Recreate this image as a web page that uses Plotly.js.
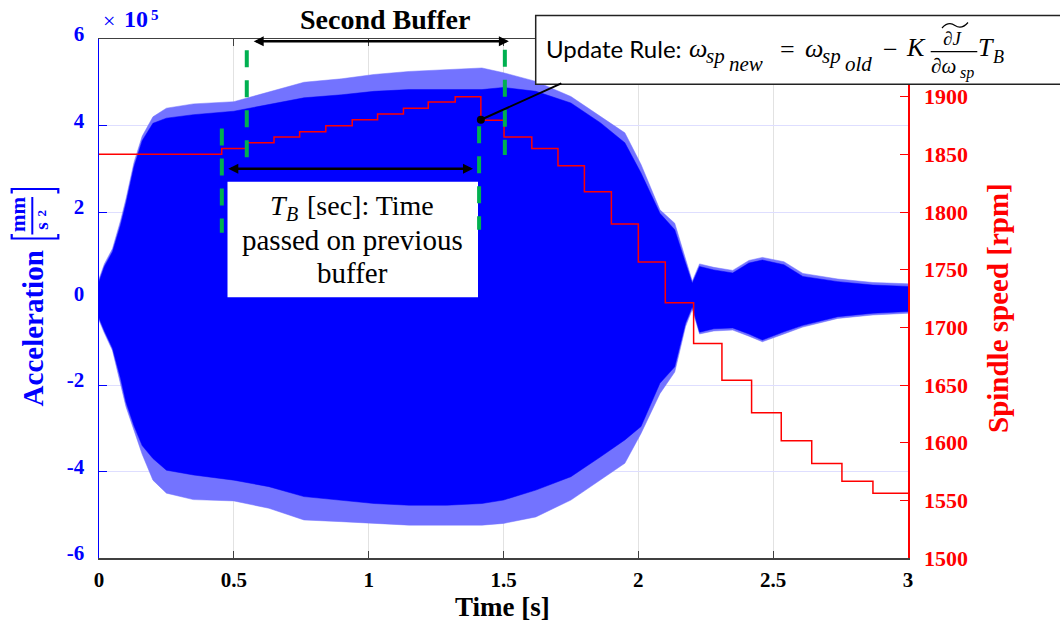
<!DOCTYPE html>
<html>
<head>
<meta charset="utf-8">
<script src="https://cdn.plot.ly/plotly-3.0.1.min.js"></script>
<style>html,body{margin:0;padding:0;background:#fff;}#chart{width:1060px;height:625px;}</style>
</head>
<body>
<div id="chart"></div>
<script>
// ---------- data ----------
// acceleration envelope, units of 1e5 mm/s^2
const tEnv    = [0, 0.02, 0.05, 0.08, 0.10, 0.13, 0.16, 0.20, 0.25, 0.35, 0.50, 0.63, 0.76, 0.90, 1.02, 1.15, 1.29, 1.42, 1.50, 1.62, 1.75, 1.86, 1.95, 2.01, 2.08, 2.135, 2.175, 2.20, 2.227, 2.28, 2.35, 2.41, 2.46, 2.54, 2.61, 2.74, 2.87, 3.0];
const upTip   = [0.45, 0.80, 1.15, 1.80, 2.30, 3.15, 3.75, 4.20, 4.40, 4.50, 4.55, 4.78, 5.00, 5.08, 5.18, 5.25, 5.29, 5.33, 5.22, 5.02, 4.67, 4.21, 3.83, 3.10, 2.05, 1.74, 0.90, 0.40, 0.80, 0.72, 0.65, 0.88, 0.95, 0.85, 0.58, 0.45, 0.37, 0.34];
const upSolid = [0.39, 0.74, 1.08, 1.70, 2.20, 3.05, 3.65, 4.05, 4.17, 4.25, 4.33, 4.48, 4.64, 4.71, 4.79, 4.83, 4.83, 4.83, 4.88, 4.79, 4.52, 4.06, 3.60, 2.90, 1.97, 1.59, 0.82, 0.35, 0.74, 0.66, 0.59, 0.82, 0.89, 0.78, 0.51, 0.39, 0.31, 0.28];
const loSolid = [-0.45, -0.75, -1.15, -1.85, -2.40, -2.95, -3.40, -3.70, -3.97, -4.08, -4.20, -4.35, -4.58, -4.66, -4.74, -4.78, -4.78, -4.74, -4.66, -4.43, -4.12, -3.66, -3.27, -2.96, -1.96, -1.58, -0.57, -0.19, -0.78, -0.70, -0.68, -0.82, -0.96, -0.77, -0.62, -0.42, -0.34, -0.30];
const loTip   = [-0.50, -0.80, -1.20, -1.95, -2.50, -3.05, -3.60, -4.20, -4.50, -4.65, -4.68, -4.85, -5.12, -5.16, -5.20, -5.24, -5.24, -5.24, -5.20, -5.05, -4.66, -4.20, -3.81, -3.12, -2.20, -1.70, -0.65, -0.25, -0.82, -0.75, -0.73, -0.87, -1.00, -0.82, -0.66, -0.46, -0.38, -0.34];
// spindle speed steps [rpm]
const stepT   = [0, 0.455, 0.546, 0.649, 0.744, 0.841, 0.939, 1.033, 1.129, 1.221, 1.321, 1.416, 1.502, 1.605, 1.702, 1.80, 1.90, 2.00, 2.10, 2.205, 2.31, 2.42, 2.53, 2.643, 2.755, 2.87, 3.0];
const speed   = [1850, 1855, 1860, 1865, 1869.5, 1874.7, 1880, 1885, 1890, 1895.3, 1900, 1879.5, 1865, 1855, 1840, 1817.5, 1789.7, 1756.7, 1721.4, 1686, 1654.2, 1625.9, 1601.6, 1582, 1566.6, 1556.2, 1556.2];
// ticks
const xTickVals  = [0, 0.5, 1, 1.5, 2, 2.5, 3];
const xTickText  = ['0', '0.5', '1', '1.5', '2', '2.5', '3'];
const yTickVals  = [-6, -4, -2, 0, 2, 4, 6];
const yTickText  = ['-6', '-4', '-2', '0', '2', '4', '6'];
const y2TickVals = [1500, 1550, 1600, 1650, 1700, 1750, 1800, 1850, 1900];
const y2TickText = ['1500', '1550', '1600', '1650', '1700', '1750', '1800', '1850', '1900'];

// ---------- layout helpers ----------
const SERIF = 'Liberation Serif';
const SANS = 'Lato';
const L = 99, W = 809, T = 39, H = 519;
const BLUE = '#0000ff', RED = '#ff0000', GREEN = '#00b050', FRINGE = 'rgb(115,115,255)';
const px2x = p => (p - L) / W;
const px2y = p => (T + H - p) / H;
const P = (x, y) => px2x(x) + ',' + px2y(y);

function txt(text, x, baseline, size, o) {
  o = o || {};
  const k = o.k !== undefined ? o.k : 0.34;
  return {
    xref: 'paper', yref: 'paper', x: px2x(x), y: px2y(baseline - k * size),
    text: text, showarrow: false, xanchor: o.anchor || 'left', yanchor: 'middle',
    borderpad: 0, borderwidth: 0,
    font: {family: o.family || SERIF, size: size, color: o.color || 'black',
           weight: o.weight || 'normal', style: o.style || 'normal'}
  };
}
function rot(text, cx, cy, size, color, weight) {
  return {
    xref: 'paper', yref: 'paper', x: px2x(cx), y: px2y(cy), text: text, showarrow: false,
    xanchor: 'center', yanchor: 'middle', textangle: -90, borderpad: 0, borderwidth: 0,
    font: {family: SERIF, size: size, color: color, weight: weight || 'bold'}
  };
}
function dArrow(x0, x1, y) {
  return {xref: 'x', yref: 'y', axref: 'x', ayref: 'y', x: x1, y: y, ax: x0, ay: y, text: '',
    showarrow: true, arrowside: 'end+start', arrowhead: 2, startarrowhead: 2,
    arrowsize: 0.8, startarrowsize: 0.8, arrowwidth: 2.5, arrowcolor: 'black',
    standoff: 0, startstandoff: 0};
}
function gLine(x, y0, y1) {
  return {type: 'line', xref: 'x', yref: 'y', x0: x, x1: x, y0: y0, y1: y1,
    line: {color: GREEN, width: 4, dash: '17px,13px'}, layer: 'above'};
}

const traces = [
  {x: tEnv, y: loTip, type: 'scatter', mode: 'lines', line: {width: 0.5, color: FRINGE}, hoverinfo: 'skip', showlegend: false},
  {x: tEnv, y: upTip, type: 'scatter', mode: 'lines', fill: 'tonexty', fillcolor: FRINGE, line: {width: 0.5, color: FRINGE}, hoverinfo: 'skip', showlegend: false},
  {x: tEnv, y: loSolid, type: 'scatter', mode: 'lines', line: {width: 0.5, color: BLUE}, hoverinfo: 'skip', showlegend: false},
  {x: tEnv, y: upSolid, type: 'scatter', mode: 'lines', fill: 'tonexty', fillcolor: BLUE, line: {width: 0.5, color: BLUE}, hoverinfo: 'skip', showlegend: false},
  {x: stepT, y: speed, yaxis: 'y2', type: 'scatter', mode: 'lines', line: {shape: 'hv', color: RED, width: 1.5}, hoverinfo: 'skip', showlegend: false}
];

const shapes = [
  // T_B text box
  {type: 'rect', xref: 'paper', yref: 'paper', x0: px2x(227.5), x1: px2x(478), y0: px2y(181.7), y1: px2y(297.3),
   fillcolor: 'white', line: {width: 0}, layer: 'above'},
  gLine(0.4555, 3.93, 1.52),
  gLine(0.548, 5.74, 3.25),
  gLine(1.4095, 3.98, 1.59),
  gLine(1.505, 5.75, 3.32),
  // update rule box
  {type: 'rect', xref: 'paper', yref: 'paper', x0: px2x(535.7), x1: px2x(1075), y0: px2y(15.5), y1: px2y(84.3),
   fillcolor: 'white', line: {width: 1.5, color: '#222'}, layer: 'above'},
  // fraction bar in formula
  {type: 'line', xref: 'paper', yref: 'paper', x0: px2x(930.7), x1: px2x(977.3), y0: px2y(51.7), y1: px2y(51.7),
   line: {color: 'black', width: 1.2}, layer: 'above'},
  // tilde over dJ
  {type: 'path', xref: 'paper', yref: 'paper', path: 'M' + P(942, 28) + ' Q' + P(948.5, 21) + ' ' + P(955, 25.5) + ' T' + P(968, 22.5),
   line: {color: 'black', width: 1.2}, layer: 'above'},
  // y-title unit: fraction bar and brackets
  {type: 'line', xref: 'paper', yref: 'paper', x0: px2x(32.3), x1: px2x(32.3), y0: px2y(197), y1: px2y(234.5),
   line: {color: BLUE, width: 2}, layer: 'above'},
  {type: 'path', xref: 'paper', yref: 'paper', path: 'M' + P(11.7, 193.5) + ' L' + P(11.7, 189) + ' L' + P(58.3, 189) + ' L' + P(58.3, 193.5),
   line: {color: BLUE, width: 2.2}, layer: 'above'},
  {type: 'path', xref: 'paper', yref: 'paper', path: 'M' + P(11.7, 234) + ' L' + P(11.7, 238.5) + ' L' + P(58.3, 238.5) + ' L' + P(58.3, 234),
   line: {color: BLUE, width: 2.2}, layer: 'above'}
];

const annotations = [
  // axis titles
  rot('Acceleration', 33.4, 328, 29, BLUE),
  rot('mm', 17.9, 214, 21, BLUE),
  rot('s', 41.8, 226, 19, BLUE),
  rot('2', 40.6, 213, 13, BLUE),
  rot('Spindle speed [rpm]', 998, 308, 29, RED),
  txt('Time [s]', 502, 616, 27, {anchor: 'center', weight: 'bold'}),
  txt('×', 103, 28, 22, {color: BLUE}),
  txt('10', 124, 27.5, 24, {color: BLUE, weight: 'bold'}),
  txt('5', 150.5, 20, 15, {color: BLUE, weight: 'bold'}),
  // buffer annotations
  txt('Second Buffer', 384.8, 29, 28, {anchor: 'center', weight: 'bold'}),
  dArrow(0.568, 1.52, 5.947),
  dArrow(0.474, 1.387, 3.0),
  txt('T', 269.6, 215, 28, {style: 'italic'}),
  txt('B', 286, 221, 20, {style: 'italic'}),
  txt('[sec]: Time', 307, 215, 28),
  txt('passed on previous', 352.7, 250, 29, {anchor: 'center'}),
  txt('buffer', 352.7, 283.3, 29, {anchor: 'center'}),
  // pointer to the update
  {xref: 'x', yref: 'y2', x: 1.416, y: 1880, ax: 82, ay: -37, text: '', showarrow: true,
   arrowhead: 6, arrowsize: 1, arrowwidth: 2, arrowcolor: 'black', standoff: 0},
  // update rule formula
  txt('Update Rule:', 546, 56.7, 24, {family: SANS, k: 0.35}),
  txt('ω', 689, 57, 26, {style: 'italic'}),
  txt('sp', 706, 63.5, 21, {style: 'italic'}),
  txt('new', 729, 71.5, 21, {style: 'italic'}),
  txt('=', 780, 58.7, 26),
  txt('ω', 805, 57, 26, {style: 'italic'}),
  txt('sp', 822, 63.5, 21, {style: 'italic'}),
  txt('old', 845, 71.5, 21, {style: 'italic'}),
  txt('−', 883, 58.7, 26),
  txt('K', 906, 56.7, 26, {style: 'italic'}),
  txt('∂<i>J</i>', 943, 45, 19, {style: 'italic'}),
  txt('∂<i>ω</i>', 931, 73.3, 21),
  txt('sp', 960, 78.3, 16, {style: 'italic'}),
  txt('T', 978, 56.7, 26, {style: 'italic'}),
  txt('B', 993, 63, 18, {style: 'italic'})
];

const layout = {
  width: 1060, height: 625,
  margin: {l: L, r: 1060 - L - W, t: T, b: 625 - T - H},
  paper_bgcolor: 'white', plot_bgcolor: 'white',
  font: {family: SERIF},
  showlegend: false,
  xaxis: {
    range: [0, 3], tickmode: 'array', tickvals: xTickVals, ticktext: xTickText,
    ticks: 'inside', ticklen: 7, tickwidth: 1, tickcolor: '#404040',
    showline: true, linecolor: '#404040', linewidth: 1.5, mirror: 'ticks',
    showgrid: true, gridcolor: '#e2e2e2', gridwidth: 1, zeroline: false,
    ticklabelstandoff: 2,
    tickfont: {family: SERIF, size: 21, color: 'black', weight: 'bold'}
  },
  yaxis: {
    range: [-6, 6], tickmode: 'array', tickvals: yTickVals, ticktext: yTickText,
    ticks: 'inside', ticklen: 8, tickwidth: 1, tickcolor: BLUE,
    showline: true, linecolor: BLUE, linewidth: 1.5,
    showgrid: true, gridcolor: 'rgb(222,222,255)', gridwidth: 1, zeroline: false,
    ticklabelstandoff: 9, ticklabelshift: -5,
    tickfont: {family: SERIF, size: 21, color: BLUE, weight: 'bold'}
  },
  yaxis2: {
    overlaying: 'y', side: 'right', anchor: 'x',
    range: [1500, 1950], tickmode: 'array', tickvals: y2TickVals, ticktext: y2TickText,
    ticks: 'inside', ticklen: 8, tickwidth: 1, tickcolor: RED,
    showline: true, linecolor: RED, linewidth: 1.5,
    showgrid: false, zeroline: false,
    ticklabelstandoff: 10,
    tickfont: {family: SERIF, size: 22, color: RED, weight: 'bold'}
  },
  shapes: shapes,
  annotations: annotations
};

Plotly.newPlot('chart', traces, layout, {staticPlot: true, displayModeBar: false});
</script>
</body>
</html>
